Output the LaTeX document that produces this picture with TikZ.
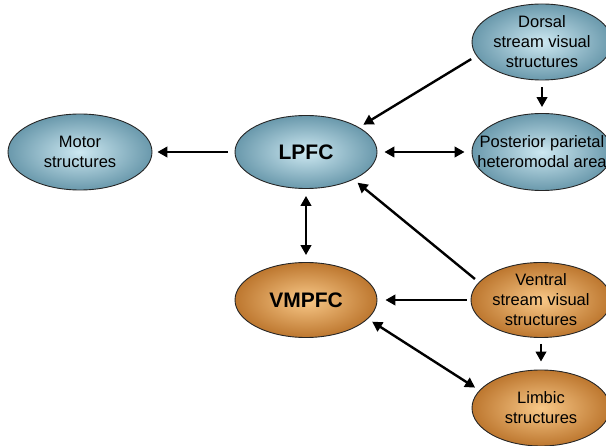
\documentclass[tikz,border=0pt]{standalone}
\usepackage{fontspec}
\setmainfont{Liberation Sans}
\usetikzlibrary{shapes.geometric,arrows.meta}
\definecolor{bluein}{HTML}{CDE8F1}
\definecolor{blueout}{HTML}{6A99AC}
\definecolor{orin}{HTML}{F8C888}
\definecolor{orout}{HTML}{BD772F}
\begin{document}
\begin{tikzpicture}[x=1pt,y=-1pt,
 blob/.style={ellipse,draw=black!85,line width=0.9pt,inner sep=0pt,minimum width=142pt,minimum height=75pt},
 bluebl/.style={blob,shading=radial,inner color=bluein,outer color=blueout},
 orbl/.style={blob,shading=radial,inner color=orin,outer color=orout},
 txt/.style={label={[align=center,font=\fontsize{16.5}{20}\selectfont]center:#1}},
 big/.style={label={[font=\fontsize{21}{24}\selectfont\bfseries]center:#1}},
 arr/.style={line width=2.4pt,-{Triangle[length=10pt,width=10.5pt]}},
 darr/.style={line width=2.4pt,{Triangle[length=10pt,width=10.5pt]}-{Triangle[length=10pt,width=10.5pt]}}]
\useasboundingbox (0,0) rectangle (606,446);
\node[bluebl,minimum width=144pt,minimum height=76pt,txt={Motor\\structures}] (motor) at (80,152) {};
\node[bluebl,minimum width=142pt,minimum height=73pt,big={LPFC}] (lpfc) at (306,152) {};
\node[bluebl,minimum width=140pt,minimum height=76pt,txt={Dorsal\\stream visual\\structures}] (dorsal) at (542,42) {};
\node[bluebl,minimum width=140pt,minimum height=77pt,txt={Posterior parietal\\heteromodal area}] (post) at (542,152) {};
\node[orbl,minimum width=142pt,minimum height=75pt,big={VMPFC}] (vmpfc) at (306,300) {};
\node[orbl,minimum width=140pt,minimum height=75pt,txt={Ventral\\stream visual\\structures}] (ventral) at (541,300) {};
\node[orbl,minimum width=138pt,minimum height=76pt,txt={Limbic\\structures}] (limbic) at (541,408) {};

\draw[arr,shorten <=7pt,shorten >=5pt] (lpfc.west) -- (motor.east);
\draw[arr,shorten <=6pt,shorten >=5pt] (dorsal.192) -- (lpfc.25);
\draw[arr,shorten <=7pt,shorten >=6pt] (dorsal.south) -- (post.north);
\draw[darr,shorten <=7pt,shorten >=7pt] (lpfc.east) -- (post.west);
\draw[darr,shorten <=7pt,shorten >=7pt] (lpfc.south) -- (vmpfc.north);
\draw[arr,shorten <=5pt,shorten >=5pt] (ventral.164) -- (lpfc.-30);
\draw[arr,shorten <=4pt,shorten >=8pt] (ventral.west) -- (vmpfc.east);
\draw[darr,shorten <=5pt,shorten >=5pt] (vmpfc.-17) -- (limbic.164);
\draw[arr,shorten <=6pt,shorten >=8pt] (ventral.south) -- (limbic.north);
\end{tikzpicture}
\end{document}
